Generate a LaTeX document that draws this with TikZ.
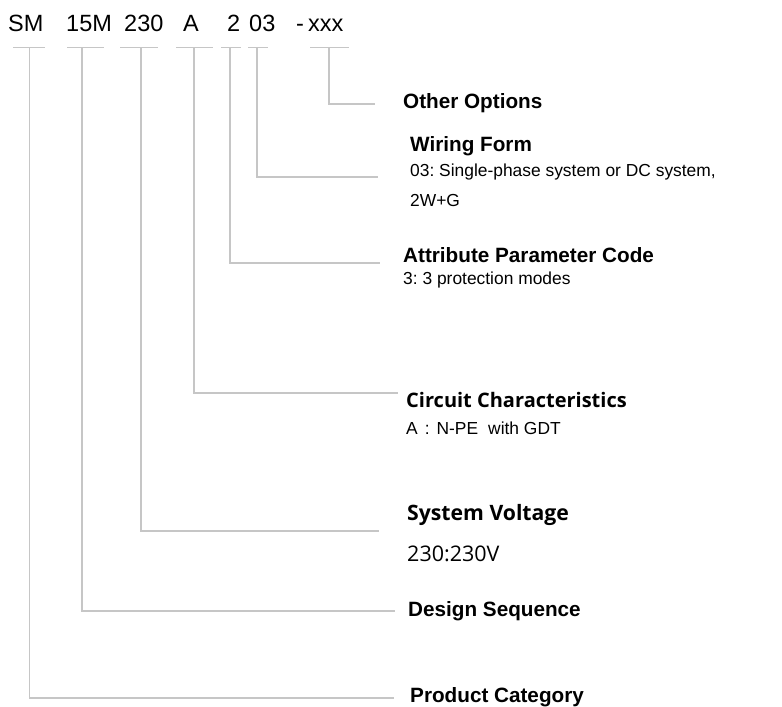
\documentclass[tikz,border=0pt]{standalone}
\usepackage{fontspec}
\setmainfont{Liberation Sans}
\newfontfamily\segoe{Open Sans}
\definecolor{linegray}{HTML}{C6C6C6}
\begin{document}
\frenchspacing
\begin{tikzpicture}[x=1pt,y=-1pt,
  conn/.style={draw=linegray, line width=1.6pt},
  code/.style={anchor=base west, inner sep=0pt, font=\fontsize{23.5}{27}\selectfont},
  ttl/.style={anchor=base west, inner sep=0pt, font=\fontsize{20.7}{24}\selectfont\bfseries},
  ttlb/.style={anchor=base west, inner sep=0pt, font=\fontsize{20}{24}\selectfont\segoe\bfseries},
  body/.style={anchor=base west, inner sep=0pt, font=\fontsize{17.4}{21}\selectfont},
  bodyb/.style={anchor=base west, inner sep=0pt, font=\fontsize{21.5}{24}\selectfont\segoe},
]
\useasboundingbox (0,0) rectangle (782,707);

% code pieces
\node[code] (cSM)  at (8,31)   {SM};
\node[code] (c15M) at (66,31)  {15M};
\node[code] (c230) at (124,31) {230};
\node[code] (cA)   at (183,31) {A};
\node[code] (c2)   at (227,31) {2};
\node[code] (c03)  at (249,31) {03};
\node[code] (cdash) at (296,31) {-};
\node[code] (cxxx) at (308,31) {xxx};

% bars
\foreach \n/\a/\b/\m in {SM/13/45/29.5, 15M/67/104/82, 230/120/158/141, A/176/213/194, 2/221/241/230, 03/248/268/257, xxx/310/349/329}{
  \coordinate (l\n) at (\a,47.5);
  \coordinate (r\n) at (\b,47.5);
  \coordinate (m\n) at (\m,47.5);
  \draw[conn] (l\n) -- (r\n);
}

% line ends
\coordinate (eOther) at (375,104);
\coordinate (eWire)  at (378,177);
\coordinate (eAttr)  at (380,263);
\coordinate (eCirc)  at (398,393);
\coordinate (eVolt)  at (379,531);
\coordinate (eDes)   at (395,611);
\coordinate (eProd)  at (394,698);

\draw[conn] (mxxx) |- (eOther);
\draw[conn] (m03)  |- (eWire);
\draw[conn] (m2)   |- (eAttr);
\draw[conn] (mA)   |- (eCirc);
\draw[conn] (m230) |- (eVolt);
\draw[conn] (m15M) |- (eDes);
\draw[conn] (mSM)  |- (eProd);

% labels
\node[ttl]  (tOther) at (403,108.5) {Other Options};
\node[ttl]  (tWire)  at (410,151) {Wiring Form};
\node[body] (bWire1) at (410,176.5) {03: Single-phase system or DC system,};
\node[body] (bWire2) at (410,206.5) {2W+G};
\node[ttl]  (tAttr)  at (403,262.5) {Attribute Parameter Code};
\node[body] (bAttr)  at (403,284) {3: 3 protection modes};
\node[ttlb] (tCirc)  at (406,407) {Circuit Characteristics};
\node[body] (bCirc)  at (406,434) {A\hspace{7pt}:\hspace{7pt}N-PE\hspace{10pt}with GDT};
\node[ttlb,font=\fontsize{21.2}{24}\selectfont\segoe\bfseries] (tVolt)  at (407,520) {System Voltage};
\node[bodyb] (bVolt) at (407,561) {230:230V};
\node[ttl]  (tDes)   at (408,616.5) {Design Sequence};
\node[ttl]  (tProd)  at (410,702) {Product Category};
\end{tikzpicture}
\end{document}
